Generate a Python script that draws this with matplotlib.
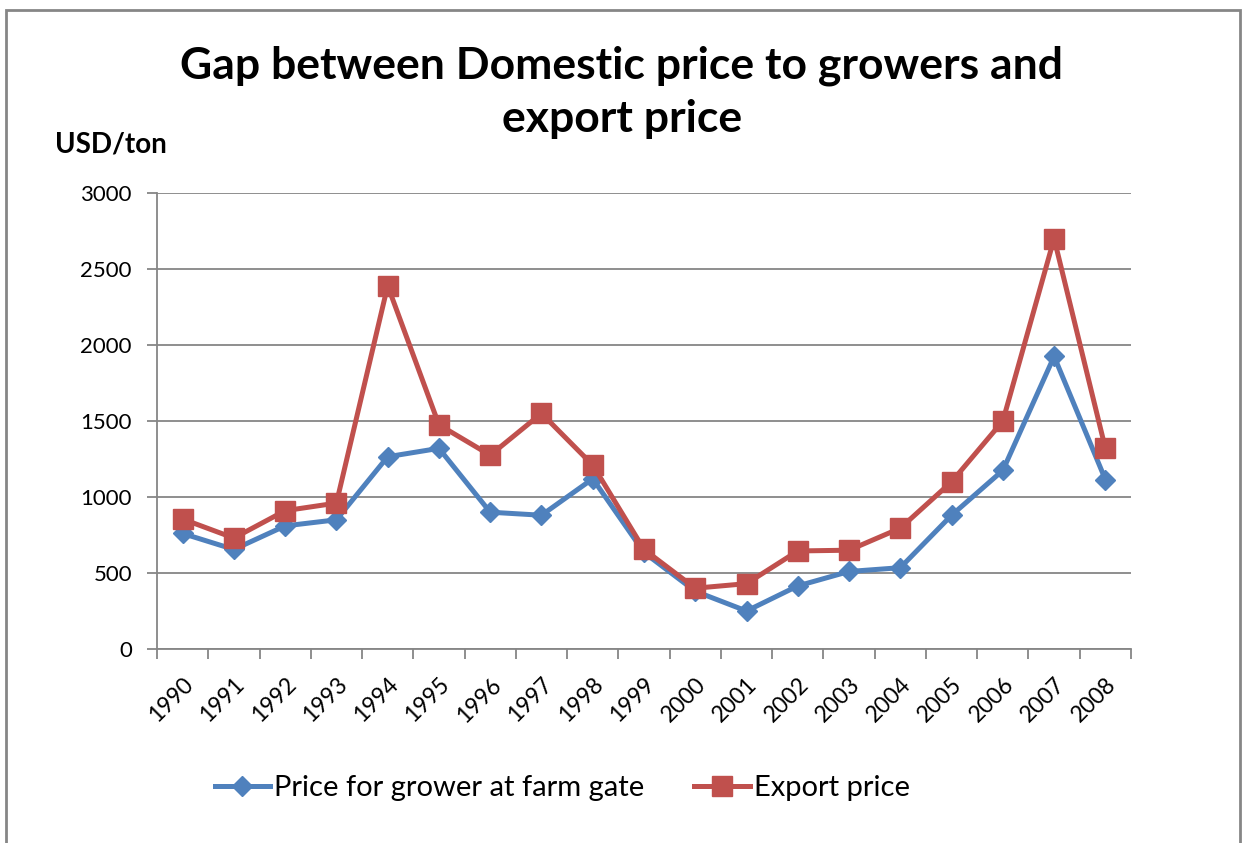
import numpy as np
import matplotlib.pyplot as plt
from matplotlib.patches import Rectangle

plt.rcParams['font.family'] = ['Lato', 'DejaVu Sans']

# Prices in USD per ton
years = ['1990', '1991', '1992', '1993', '1994', '1995', '1996', '1997', '1998', '1999',
         '2000', '2001', '2002', '2003', '2004', '2005', '2006', '2007', '2008']
grower_price = [760, 655, 810, 850, 1265, 1320, 900, 880, 1120, 635,
                380, 250, 415, 510, 535, 880, 1175, 1925, 1115]
export_price = [855, 730, 910, 960, 2390, 1475, 1275, 1550, 1210, 655,
                400, 430, 645, 650, 795, 1100, 1500, 2700, 1320]

blue = '#4F81BD'
red = '#C0504D'
grid_col = '#868686'

fig = plt.figure(figsize=(12.44, 8.43), dpi=100)
ax = fig.add_axes([157 / 1244, 1 - 649 / 843, (1131 - 157) / 1244, (649 - 193) / 843])

x = np.arange(len(years))
ax.plot(x, grower_price, color=blue, lw=3.6, marker='D', ms=10.5,
        label='Price for grower at farm gate', zorder=3)
ax.plot(x, export_price, color=red, lw=3.6, marker='s', ms=14,
        label='Export price', zorder=4)

ax.set_xlim(-0.5, len(years) - 0.5)
ax.set_ylim(0, 3000)
ax.set_yticks(np.arange(0, 3001, 500))
ax.yaxis.grid(True, color=grid_col, lw=1.3)
ax.set_axisbelow(True)

ax.set_xticks(x)
ax.set_xticklabels(years, rotation=45, ha='right', va='top', rotation_mode='anchor')
ax.set_xticks(np.arange(-0.5, len(years), 1), minor=True)
ax.tick_params(axis='x', which='major', length=0, pad=18, labelsize=16.5)
ax.tick_params(axis='x', which='minor', length=7, width=1.3, color=grid_col)
ax.tick_params(axis='y', length=7, width=1.3, color=grid_col, labelsize=16, pad=11)

for s in ['top', 'right']:
    ax.spines[s].set_visible(False)
for s in ['left', 'bottom']:
    ax.spines[s].set_color(grid_col)
    ax.spines[s].set_linewidth(1.3)

fig.text(0.5, 1 - 92 / 843, 'Gap between Domestic price to growers and\nexport price',
         ha='center', va='center', fontsize=32, fontweight='bold', linespacing=1.4)
fig.text(55 / 1244, 1 - 145 / 843, 'USD/ton', ha='left', va='center',
         fontsize=20, fontweight='bold')

fig.legend(loc='center', bbox_to_anchor=(0.452, 1 - 788 / 843), ncol=2, frameon=False,
           fontsize=21, handlelength=1.9, columnspacing=1.7, handletextpad=0.15)

# outer chart border
fig.patches.append(Rectangle((6 / 1244, -0.05), (1240 - 6) / 1244, 1.05 - 10 / 843,
                             transform=fig.transFigure, fill=False,
                             edgecolor=grid_col, lw=2))

fig.savefig('out.png', dpi=100)
